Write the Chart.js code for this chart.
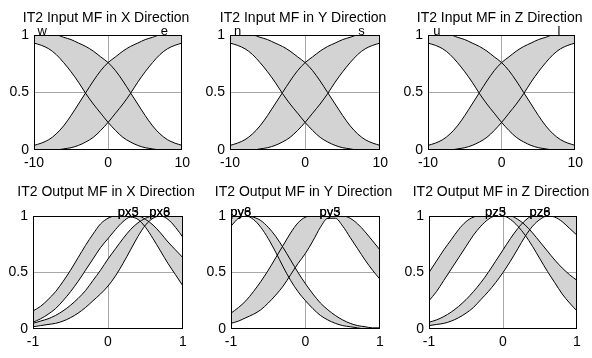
<!DOCTYPE html>
<html>
<head>
<meta charset="utf-8">
<script src="https://cdn.jsdelivr.net/npm/chart.js@4/dist/chart.umd.min.js"></script>
<style>
html, body { margin: 0; padding: 0; background: #fff; }
#wrap { position: relative; width: 592px; height: 358px; overflow: hidden; }
canvas { position: absolute; }
</style>
</head>
<body>
<div id="wrap"></div>
<script>
// input MFs (same shape in X, Y and Z)
const inX = [-10, -9, -8, -7, -6, -5, -4, -3, -2, -1, 0, 1, 2, 3, 4, 5, 6, 7, 8, 9, 10];
const decUpper = [1, 1, 1, 1, 0.98, 0.96, 0.93, 0.9, 0.86, 0.81, 0.76, 0.69, 0.6, 0.5, 0.4, 0.3, 0.21, 0.14, 0.09, 0.06, 0.04];
const decLower = [0.93, 0.91, 0.88, 0.83, 0.76, 0.68, 0.59, 0.49, 0.4, 0.32, 0.24, 0.17, 0.11, 0.07, 0.04, 0.02, 0.01, 0, 0, 0, 0];
const incUpper = [0.04, 0.06, 0.09, 0.14, 0.21, 0.3, 0.4, 0.5, 0.6, 0.69, 0.76, 0.81, 0.86, 0.9, 0.93, 0.96, 0.98, 1, 1, 1, 1];
const incLower = [0, 0, 0, 0, 0.01, 0.02, 0.04, 0.07, 0.11, 0.17, 0.24, 0.32, 0.4, 0.49, 0.59, 0.68, 0.76, 0.83, 0.88, 0.91, 0.93];

// output MFs
const outX = [-1, -0.9, -0.8, -0.7, -0.6, -0.5, -0.4, -0.3, -0.2, -0.1, 0, 0.1, 0.2, 0.3, 0.4, 0.5, 0.6, 0.7, 0.8, 0.9, 1];
const px35Upper = [0.16, 0.2, 0.26, 0.33, 0.42, 0.52, 0.63, 0.74, 0.84, 0.93, 0.98, 1, 1, 1, 1, 0.97, 0.92, 0.85, 0.77, 0.7, 0.63];
const px35Lower = [0.06, 0.09, 0.13, 0.18, 0.25, 0.33, 0.42, 0.52, 0.62, 0.72, 0.8, 0.88, 0.95, 0.99, 0.97, 0.9, 0.8, 0.69, 0.58, 0.48, 0.38];
const px68Upper = [0.05, 0.07, 0.09, 0.12, 0.16, 0.21, 0.27, 0.34, 0.43, 0.52, 0.62, 0.71, 0.8, 0.88, 0.94, 0.98, 1, 1, 1, 1, 1];
const px68Lower = [0.02, 0.03, 0.04, 0.05, 0.07, 0.1, 0.14, 0.19, 0.25, 0.31, 0.38, 0.47, 0.58, 0.7, 0.82, 0.92, 0.98, 1, 0.97, 0.9, 0.81];
const py68Upper = [1, 1, 1, 0.99, 0.96, 0.9, 0.82, 0.72, 0.61, 0.5, 0.4, 0.31, 0.23, 0.17, 0.12, 0.08, 0.05, 0.03, 0.02, 0.01, 0.01];
const py68Lower = [0.91, 0.98, 1, 0.97, 0.9, 0.8, 0.68, 0.55, 0.43, 0.33, 0.25, 0.18, 0.12, 0.08, 0.05, 0.03, 0.02, 0.01, 0, 0, 0];
const py35Upper = [0.14, 0.19, 0.25, 0.33, 0.42, 0.52, 0.63, 0.74, 0.85, 0.94, 0.99, 1, 1, 1, 1, 1, 0.98, 0.93, 0.86, 0.78, 0.7];
const py35Lower = [0.05, 0.07, 0.1, 0.13, 0.17, 0.23, 0.3, 0.38, 0.48, 0.58, 0.67, 0.78, 0.9, 0.98, 0.98, 0.91, 0.81, 0.71, 0.61, 0.52, 0.44];
const pz35Upper = [0.5, 0.6, 0.7, 0.79, 0.88, 0.95, 0.99, 1, 1, 1, 1, 1, 0.97, 0.92, 0.85, 0.77, 0.69, 0.61, 0.54, 0.48, 0.43];
const pz35Lower = [0.25, 0.33, 0.43, 0.53, 0.63, 0.73, 0.83, 0.91, 0.97, 1, 1, 0.97, 0.91, 0.83, 0.73, 0.62, 0.51, 0.41, 0.31, 0.23, 0.16];
const pz68Upper = [0.06, 0.08, 0.11, 0.15, 0.2, 0.26, 0.33, 0.41, 0.5, 0.6, 0.7, 0.8, 0.89, 0.96, 1, 1, 1, 1, 1, 1, 1];
const pz68Lower = [0.03, 0.04, 0.05, 0.07, 0.1, 0.14, 0.19, 0.26, 0.33, 0.41, 0.5, 0.6, 0.71, 0.82, 0.91, 0.97, 1, 0.99, 0.95, 0.89, 0.83];

const titles = [
  'IT2 Input MF in X Direction', 'IT2 Input MF in Y Direction', 'IT2 Input MF in Z Direction',
  'IT2 Output MF in X Direction', 'IT2 Output MF in Y Direction', 'IT2 Output MF in Z Direction'
];
const inTicks = [-10, 0, 10];
const outTicks = [-1, 0, 1];
const yTicks = [0, 0.5, 1];

// MF names drawn on top of each box: [x, text]
const mfLabels = [
  [[-8.9, 'w'], [7.6, 'e']],
  [[-9, 'n'], [7.5, 's']],
  [[-8.8, 'u'], [7.8, 'l']],
  [[0.27, 'px3'], [0.27, 'px5'], [0.69, 'px6'], [0.69, 'px8']],
  [[-0.87, 'py6'], [-0.87, 'py8'], [0.33, 'py3'], [0.33, 'py5']],
  [[-0.1, 'pz3'], [-0.1, 'pz5'], [0.5, 'pz6'], [0.5, 'pz8']]
];

const FONT = '"Liberation Sans", Arial, sans-serif';
const GRAY = '#d3d3d3';
const AXW = 34, AXH = 24, PADT = 36, PADR = 12;

const panels = [
  { box: [34, 35, 183, 150], xs: inX, ticks: inTicks, bands: [[decUpper, decLower], [incUpper, incLower]], titleGap: 13 },
  { box: [230, 35, 381, 150], xs: inX, ticks: inTicks, bands: [[decUpper, decLower], [incUpper, incLower]], titleGap: 13 },
  { box: [428, 35, 576, 150], xs: inX, ticks: inTicks, bands: [[decUpper, decLower], [incUpper, incLower]], titleGap: 13 },
  { box: [33, 216, 183, 329], xs: outX, ticks: outTicks, bands: [[px35Upper, px35Lower], [px68Upper, px68Lower]], titleGap: 20 },
  { box: [231, 216, 380, 329], xs: outX, ticks: outTicks, bands: [[py68Upper, py68Lower], [py35Upper, py35Lower]], titleGap: 20 },
  { box: [429, 216, 577, 329], xs: outX, ticks: outTicks, bands: [[pz35Upper, pz35Lower], [pz68Upper, pz68Lower]], titleGap: 20 }
];

const wrap = document.getElementById('wrap');

panels.forEach((p, idx) => {
  const w = p.box[2] - p.box[0] + AXW + PADR;
  const h = p.box[3] - p.box[1] + PADT + AXH;
  const cv = document.createElement('canvas');
  cv.width = w; cv.height = h;
  cv.style.width = w + 'px'; cv.style.height = h + 'px';
  cv.style.left = (p.box[0] - AXW) + 'px';
  cv.style.top = (p.box[1] - PADT) + 'px';
  wrap.appendChild(cv);

  const datasets = [];
  p.bands.forEach(b => {
    datasets.push({
      data: p.xs.map((x, i) => ({ x: x, y: b[0][i] })),
      borderColor: '#000', borderWidth: 1, pointRadius: 0,
      backgroundColor: GRAY, fill: '+1', cubicInterpolationMode: 'monotone'
    });
    datasets.push({
      data: p.xs.map((x, i) => ({ x: x, y: b[1][i] })),
      borderColor: '#000', borderWidth: 1, pointRadius: 0,
      fill: false, cubicInterpolationMode: 'monotone'
    });
  });

  const decor = {
    id: 'decor',
    afterDraw(chart) {
      const { ctx, chartArea: a, scales } = chart;
      ctx.save();
      ctx.strokeStyle = '#000';
      ctx.lineWidth = 1;
      ctx.strokeRect(Math.round(a.left) + 0.5, Math.round(a.top) + 0.5,
        Math.round(a.right - a.left) - 1, Math.round(a.bottom - a.top) - 1);
      ctx.fillStyle = '#000';
      ctx.textAlign = 'center';
      ctx.textBaseline = 'alphabetic';
      ctx.font = '14px ' + FONT;
      ctx.fillText(titles[idx], (a.left + a.right) / 2 - 2, a.top - p.titleGap);
      ctx.font = '13px ' + FONT;
      mfLabels[idx].forEach(l => {
        ctx.fillText(l[1], scales.x.getPixelForValue(l[0]), a.top);
      });
      ctx.restore();
    }
  };

  new Chart(cv, {
    type: 'line',
    data: { datasets: datasets },
    options: {
      responsive: false,
      animation: false,
      devicePixelRatio: 1,
      layout: { padding: { top: PADT, right: PADR, left: 0, bottom: 0 } },
      plugins: {
        legend: { display: false },
        tooltip: { enabled: false },
        filler: { drawTime: 'beforeDatasetsDraw' }
      },
      scales: {
        x: {
          type: 'linear',
          min: p.ticks[0], max: p.ticks[2],
          afterBuildTicks: s => { s.ticks = p.ticks.map(v => ({ value: v })); },
          afterFit: s => { s.height = AXH; },
          border: { display: false },
          grid: { drawTicks: false, color: c => (c.tick && c.tick.value === 0 ? '#a8a8a8' : 'rgba(0,0,0,0)') },
          ticks: { padding: 5, maxRotation: 0, autoSkip: false, color: '#000', font: { family: FONT, size: 14 }, callback: v => String(v) }
        },
        y: {
          min: 0, max: 1,
          afterBuildTicks: s => { s.ticks = yTicks.map(v => ({ value: v })); },
          afterFit: s => { s.width = AXW; },
          border: { display: false },
          grid: { drawTicks: false, color: c => (c.tick && c.tick.value === 0.5 ? '#a8a8a8' : 'rgba(0,0,0,0)') },
          ticks: { padding: 5, color: '#000', font: { family: FONT, size: 14 }, callback: v => String(v) }
        }
      }
    },
    plugins: [decor]
  });
});
</script>
</body>
</html>
